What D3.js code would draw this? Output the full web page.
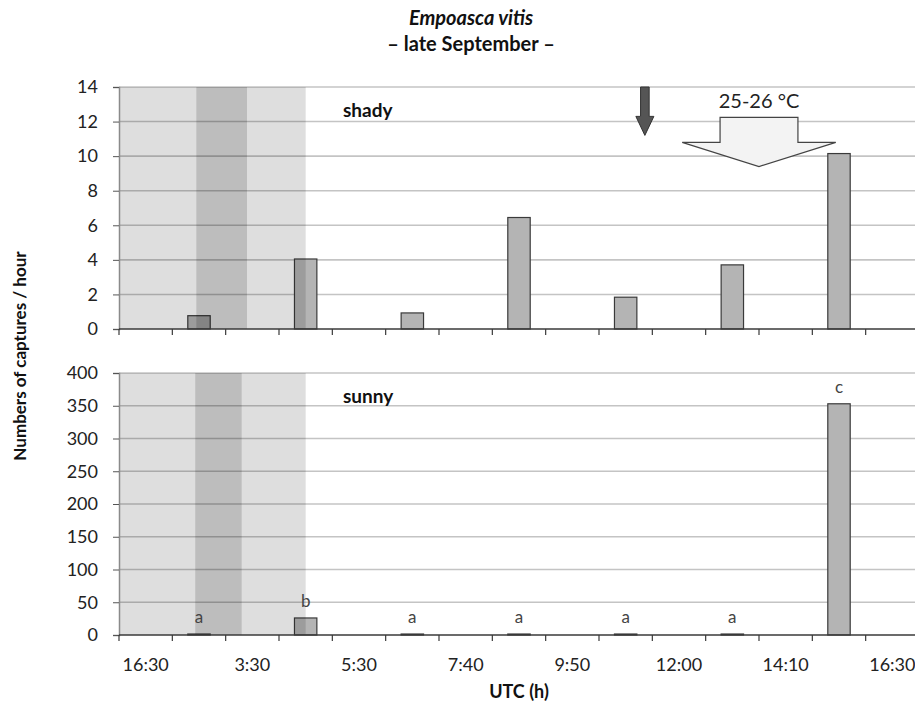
<!DOCTYPE html>
<html>
<head>
<meta charset="utf-8">
<script src="https://cdn.jsdelivr.net/npm/d3@7"></script>
<style>
  body { margin: 0; background: #fff; }
  svg text { font-family: Lato, "Open Sans", sans-serif; }
</style>
</head>
<body>
<div class="chart"></div>
<script>
// 15 sampling slots, only every second one carries a label
const categories = d3.range(15)
const tickLabels = ["16:30", "", "3:30", "", "5:30", "", "7:40", "", "9:50", "", "12:00", "", "14:10", "", "16:30"]

const shadyValues = [0, 0.77, 0, 4.05, 0, 0.93, 0, 6.45, 0, 1.84, 0, 3.71, 0, 10.15, 0]
const sunnyValues = [0, 1.5, 0, 26, 0, 1.5, 0, 1.5, 0, 1.5, 0, 1.5, 0, 353, 0]
const sunnyLetters = ["", "a", "", "b", "", "a", "", "a", "", "a", "", "a", "", "c", ""]

const shadyTicks = [0, 2, 4, 6, 8, 10, 12, 14]
const sunnyTicks = [0, 50, 100, 150, 200, 250, 300, 350, 400]

// night / twilight spans, in category units
const shadyNight = [0, 3.5]
const shadyDark = [1.45, 2.4]
const sunnyNight = [0, 3.5]
const sunnyDark = [1.43, 2.3]

const width = 915
const height = 705
const left = 119
const right = 919

const svg = d3.select(".chart").append("svg").attr("width", width).attr("height", height)

const xScale = d3.scaleBand().domain(categories).range([left, right]).paddingInner(0.58).paddingOuter(0.29)
const xSlot = d3.scaleLinear().domain([0, 15]).range([left, right])

const drawPanel = (values, ticks, top, bottom, night, dark, label) => {
  const yScale = d3.scaleLinear().domain([0, d3.max(ticks)]).range([bottom, top])
  const g = svg.append("g")

  // gridlines
  g.selectAll(".grid")
    .data(ticks.slice(1))
    .enter()
    .append("line")
    .attr("x1", left)
    .attr("x2", right)
    .attr("y1", d => yScale(d))
    .attr("y2", d => yScale(d))
    .attr("stroke", "#c4c4c4")
    .attr("stroke-width", 1.6)

  // bars
  g.selectAll(".bar")
    .data(values.map((v, i) => ({ i, v })).filter(d => d.v > 0))
    .enter()
    .append("rect")
    .attr("x", d => xScale(d.i))
    .attr("width", xScale.bandwidth())
    .attr("y", d => yScale(d.v))
    .attr("height", d => bottom - yScale(d.v))
    .attr("fill", "#b4b4b4")
    .attr("stroke", "#3a3a3a")
    .attr("stroke-width", 1.2)

  // shaded night spans sit over the bars
  g.append("rect")
    .attr("x", xSlot(night[0]))
    .attr("width", xSlot(night[1]) - xSlot(night[0]))
    .attr("y", top)
    .attr("height", bottom - top)
    .attr("fill", "#000")
    .attr("fill-opacity", 0.13)
  g.append("rect")
    .attr("x", xSlot(dark[0]))
    .attr("width", xSlot(dark[1]) - xSlot(dark[0]))
    .attr("y", top)
    .attr("height", bottom - top)
    .attr("fill", "#000")
    .attr("fill-opacity", 0.15)

  // y axis
  const yAxis = d3.axisLeft(yScale).tickValues(ticks).tickSize(6).tickPadding(15)
  const yAxisGroup = g.append("g").attr("transform", `translate(${left},0)`).call(yAxis)
  yAxisGroup.select(".domain").attr("stroke", "#8a8a8a").attr("stroke-width", 1.5)
  yAxisGroup.selectAll(".tick line").attr("stroke", "#555")
  yAxisGroup.selectAll("text").attr("font-size", 18).attr("fill", "#222")

  // x axis, ticks on slot boundaries
  const xAxisGroup = g.append("g").attr("transform", `translate(0,${bottom})`)
  xAxisGroup.append("line").attr("x1", left).attr("x2", right).attr("stroke", "#3a3a3a").attr("stroke-width", 1.6)
  xAxisGroup.selectAll(".xt")
    .data(d3.range(16))
    .enter()
    .append("line")
    .attr("x1", d => xSlot(d))
    .attr("x2", d => xSlot(d))
    .attr("y1", 0)
    .attr("y2", 6)
    .attr("stroke", "#3a3a3a")
    .attr("stroke-width", 1.2)

  g.append("text")
    .attr("x", xSlot(4.2))
    .attr("y", top + 30)
    .attr("font-size", 19)
    .attr("font-weight", "bold")
    .attr("fill", "#111")
    .text(label)

  return yScale
}

const yShady = drawPanel(shadyValues, shadyTicks, 87, 329, shadyNight, shadyDark, "shady")
const ySunny = drawPanel(sunnyValues, sunnyTicks, 373, 635, sunnyNight, sunnyDark, "sunny")

// significance letters
svg.selectAll(".letter")
  .data(sunnyLetters.map((t, i) => ({ t, i })).filter(d => d.t))
  .enter()
  .append("text")
  .attr("x", d => xScale(d.i) + xScale.bandwidth() / 2)
  .attr("y", d => ySunny(sunnyValues[d.i]) - 11)
  .attr("text-anchor", "middle")
  .attr("font-size", 17)
  .attr("fill", "#444")
  .text(d => d.t)

// category labels under the lower panel
svg.selectAll(".xl")
  .data(categories.filter(i => tickLabels[i]))
  .enter()
  .append("text")
  .attr("x", d => xScale(d) + xScale.bandwidth() / 2)
  .attr("y", 671)
  .attr("text-anchor", "middle")
  .attr("font-size", 18)
  .attr("fill", "#222")
  .text(d => tickLabels[d])

// dark arrow (solar noon) and temperature arrow, placed in data units
const darkArrow = { x: 9.86, top: 14, head: 12.3, tip: 11.2 }
const shaft = 4.3, headHalf = 9
const ax = xSlot(darkArrow.x)
svg.append("path")
  .attr("d", `M${ax - shaft},${yShady(darkArrow.top)} L${ax + shaft},${yShady(darkArrow.top)} L${ax + shaft},${yShady(darkArrow.head)} L${ax + headHalf},${yShady(darkArrow.head)} L${ax},${yShady(darkArrow.tip)} L${ax - headHalf},${yShady(darkArrow.head)} L${ax - shaft},${yShady(darkArrow.head)} Z`)
  .attr("fill", "#555")
  .attr("stroke", "#333")
  .attr("stroke-width", 1)

const tempArrow = { x: 12, box: 0.73, head: 1.44, top: 12.24, shoulder: 10.8, tip: 9.4, text: "25-26 °C" }
const bx = xSlot(tempArrow.x)
const bw = xSlot(tempArrow.box) - xSlot(0)
const hw = xSlot(tempArrow.head) - xSlot(0)
svg.append("path")
  .attr("d", `M${bx - bw},${yShady(tempArrow.top)} L${bx + bw},${yShady(tempArrow.top)} L${bx + bw},${yShady(tempArrow.shoulder)} L${bx + hw},${yShady(tempArrow.shoulder)} L${bx},${yShady(tempArrow.tip)} L${bx - hw},${yShady(tempArrow.shoulder)} L${bx - bw},${yShady(tempArrow.shoulder)} Z`)
  .attr("fill", "#f3f3f3")
  .attr("stroke", "#444")
  .attr("stroke-width", 1.2)
svg.append("text")
  .attr("x", bx)
  .attr("y", yShady(13.2) + 7)
  .attr("text-anchor", "middle")
  .attr("font-size", 20)
  .attr("fill", "#222")
  .text(tempArrow.text)

// titles
svg.append("text")
  .attr("x", 471).attr("y", 25)
  .attr("text-anchor", "middle")
  .attr("font-size", 20)
  .attr("font-weight", "bold")
  .attr("font-style", "italic")
  .attr("fill", "#111")
  .text("Empoasca vitis")
svg.append("text")
  .attr("x", 471).attr("y", 51)
  .attr("text-anchor", "middle")
  .attr("font-size", 20)
  .attr("font-weight", "bold")
  .attr("fill", "#111")
  .text("– late September –")

svg.append("text")
  .attr("transform", "translate(26,356) rotate(-90)")
  .attr("text-anchor", "middle")
  .attr("font-size", 17)
  .attr("font-weight", "bold")
  .attr("fill", "#111")
  .text("Numbers of captures / hour")

svg.append("text")
  .attr("x", 519).attr("y", 698)
  .attr("text-anchor", "middle")
  .attr("font-size", 18)
  .attr("font-weight", "bold")
  .attr("fill", "#111")
  .text("UTC (h)")
</script>
</body>
</html>
